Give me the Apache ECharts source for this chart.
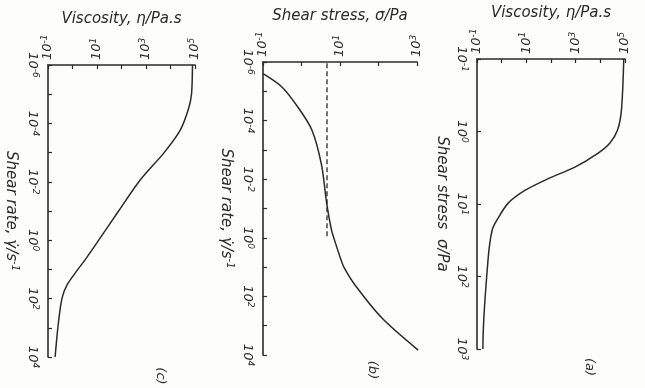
<!DOCTYPE html>
<html>
<head>
<meta charset="utf-8">
<script src="https://cdn.jsdelivr.net/npm/echarts@6/dist/echarts.min.js"></script>
<style>
  html, body { margin: 0; padding: 0; background: #fdfdfc; }
  #main { width: 645px; height: 388px; }
</style>
</head>
<body>
<div id="main"></div>
<script>
// panel (c): viscosity vs shear rate
var rateC = [1e-6, 1e-5, 3.2e-5, 1.7e-4, 1e-3, 8.7e-3, 0.1, 1, 4.8, 10, 34, 100, 800, 1e4];
var viscC = [7.9e4, 7.2e4, 5.4e4, 2.5e4, 5.5e3, 580, 76, 11.7, 3.2, 1.66, 0.6, 0.37, 0.26, 0.195];

// panel (b): shear stress vs shear rate, dashed = yield stress
var rateB = [2.5e-6, 7.1e-6, 3.5e-5, 2.1e-4, 3.2e-3, 0.065, 0.54, 1.2, 5.8, 10.7, 41, 550, 6800];
var stressB = [0.1, 0.31, 0.81, 1.86, 3.3, 4.5, 6.0, 7.2, 10.7, 12.9, 24.5, 123, 1070];
var yieldStress = 4.6;
var yieldRate = [1.1e-6, 1];

// panel (a): viscosity vs shear stress
var stressA = [0.1, 0.5, 0.95, 1.45, 2.0, 3.1, 4.5, 6.5, 9.8, 16.6, 23, 59, 910, 1000];
var viscA = [8.9e4, 7.2e4, 5e4, 2.4e4, 7.9e3, 930, 74, 8.7, 1.8, 0.65, 0.41, 0.28, 0.174, 0.174];

// exponents that get a tick label
var viscLabels = [-1, 1, 3, 5];
var stressLabelsB = [-1, 1, 3];
var rateLabels = [-6, -4, -2, 0, 2, 4];
var stressLabelsA = [-1, 0, 1, 2, 3];

var ink = '#2a2a2a';
var fontFam = 'DejaVu Sans, sans-serif';

function pairs(xs, ys) {
  var out = [];
  for (var i = 0; i < xs.length; i++) out.push([xs[i], ys[i]]);
  return out;
}

function powLabel(list) {
  return function(v) {
    var e = Math.round(Math.log10(v));
    if (list.indexOf(e) < 0) return '';
    return '{b|10}{s|' + e + '}';
  };
}

var labelRich = {
  b: { fontSize: 13, fontFamily: fontFam, fontStyle: 'italic', color: ink },
  s: { fontSize: 9, fontFamily: fontFam, fontStyle: 'italic', color: ink, padding: [0, 0, 7, 0], verticalAlign: 'bottom' }
};
var nameRich = {
  n: { fontSize: 15, fontFamily: fontFam, fontStyle: 'italic', color: ink },
  s: { fontSize: 10, fontFamily: fontFam, fontStyle: 'italic', color: ink, padding: [0, 0, 8, 0], verticalAlign: 'bottom' }
};

function topAxis(idx, min, max, name, labels) {
  return {
    type: 'log', logBase: 10, gridIndex: idx, position: 'top',
    min: min, max: max, interval: 1,
    name: '{n|' + name + '}', nameLocation: 'middle', nameGap: 37,
    nameTextStyle: { rich: nameRich },
    axisLine: { lineStyle: { color: ink, width: 1.6 } },
    axisTick: { inside: true, length: 4, lineStyle: { color: ink, width: 1.2 } },
    axisLabel: { rotate: -90, margin: 5, formatter: powLabel(labels), rich: labelRich },
    splitLine: { show: false }
  };
}

function leftAxis(idx, min, max, nameHtml, labels) {
  return {
    type: 'log', logBase: 10, gridIndex: idx, inverse: true,
    min: min, max: max, interval: 1,
    name: nameHtml, nameLocation: 'middle', nameGap: 28, nameRotate: -90,
    nameTextStyle: { rich: nameRich },
    axisLine: { lineStyle: { color: ink, width: 1.6 } },
    axisTick: { inside: true, length: 4, lineStyle: { color: ink, width: 1.2 } },
    axisLabel: { rotate: -90, margin: 8, formatter: powLabel(labels), rich: labelRich },
    splitLine: { show: false }
  };
}

var rateName = '{n|Shear rate, γ̇/s}{s|-1}';

var option = {
  backgroundColor: '#fdfdfc',
  animation: false,
  grid: [
    { left: 48, top: 65, width: 147, height: 292 },
    { left: 263, top: 62, width: 154, height: 293 },
    { left: 477, top: 59, width: 148, height: 290 }
  ],
  xAxis: [
    topAxis(0, 0.1, 1e5, 'Viscosity, η/Pa.s', viscLabels),
    topAxis(1, 0.1, 1e3, 'Shear stress, σ/Pa', stressLabelsB),
    topAxis(2, 0.1, 1e5, 'Viscosity, η/Pa.s', viscLabels)
  ],
  yAxis: [
    leftAxis(0, 1e-6, 1e4, rateName, rateLabels),
    leftAxis(1, 1e-6, 1e4, rateName, rateLabels),
    leftAxis(2, 0.1, 1e3, '{n|Shear stress  σ/Pa}', stressLabelsA)
  ],
  series: [
    {
      type: 'line', xAxisIndex: 0, yAxisIndex: 0, smooth: 0.3, showSymbol: false,
      lineStyle: { color: ink, width: 1.5 }, data: pairs(viscC, rateC)
    },
    {
      type: 'line', xAxisIndex: 1, yAxisIndex: 1, smooth: 0.3, showSymbol: false,
      lineStyle: { color: ink, width: 1.5 }, data: pairs(stressB, rateB)
    },
    {
      type: 'line', xAxisIndex: 1, yAxisIndex: 1, showSymbol: false,
      lineStyle: { color: ink, width: 1.3, type: [5, 3] },
      data: [[yieldStress, yieldRate[0]], [yieldStress, yieldRate[1]]]
    },
    {
      type: 'line', xAxisIndex: 2, yAxisIndex: 2, smooth: 0.3, showSymbol: false,
      lineStyle: { color: ink, width: 1.5 }, data: pairs(viscA, stressA)
    }
  ],
  graphic: [
    { type: 'text', x: 160, y: 376, rotation: -Math.PI / 2,
      style: { text: '(c)', fill: ink, font: 'italic 13px DejaVu Sans', align: 'center', verticalAlign: 'middle' } },
    { type: 'text', x: 372, y: 370, rotation: -Math.PI / 2,
      style: { text: '(b)', fill: ink, font: 'italic 13px DejaVu Sans', align: 'center', verticalAlign: 'middle' } },
    { type: 'text', x: 589, y: 367, rotation: -Math.PI / 2,
      style: { text: '(a)', fill: ink, font: 'italic 13px DejaVu Sans', align: 'center', verticalAlign: 'middle' } }
  ]
};

var myChart = echarts.init(document.getElementById('main'));
myChart.setOption(option);
</script>
</body>
</html>
